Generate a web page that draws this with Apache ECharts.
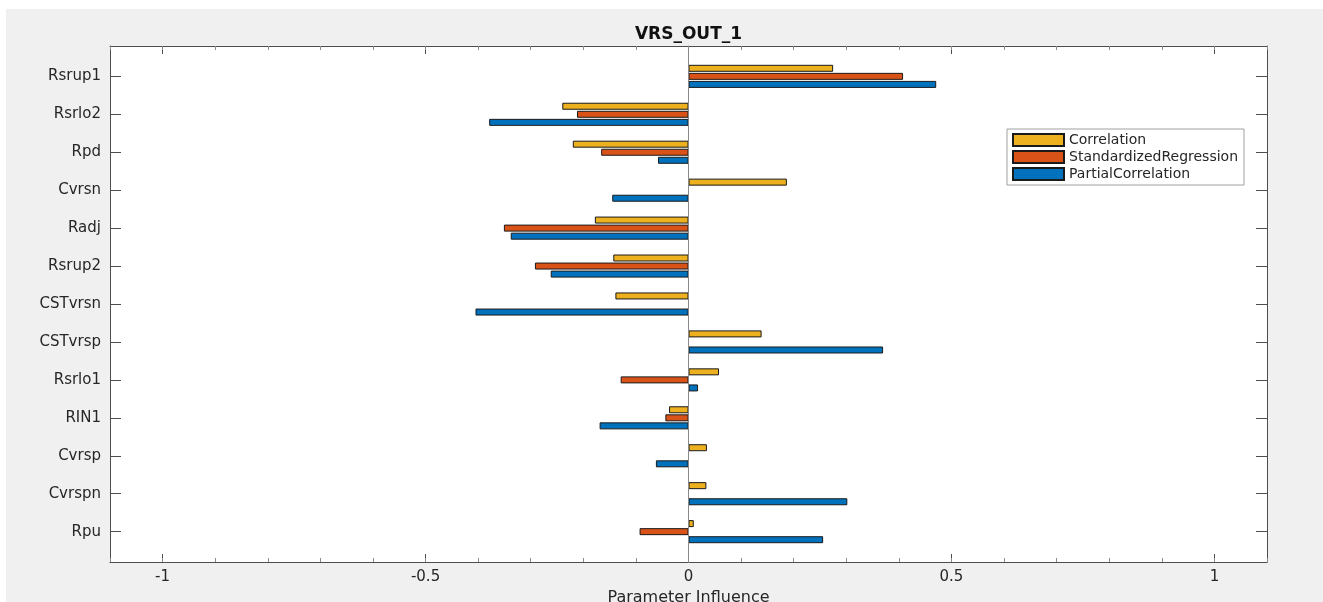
<!DOCTYPE html>
<html>
<head>
<meta charset="utf-8">
<title>VRS_OUT_1</title>
<script src="https://cdn.jsdelivr.net/npm/echarts@6/dist/echarts.min.js"></script>
<style>
  html, body { margin: 0; padding: 0; background: #fff; }
  #chart { position: absolute; left: 6px; top: 9px; width: 1317px; height: 593px; background: #f0f0f0; }
</style>
</head>
<body>
<div id="chart"></div>
<script>
// data
const categories = ['Rsrup1', 'Rsrlo2', 'Rpd', 'Cvrsn', 'Radj', 'Rsrup2', 'CSTvrsn',
  'CSTvrsp', 'Rsrlo1', 'RIN1', 'Cvrsp', 'Cvrspn', 'Rpu'];
const correlation = [0.275, -0.240, -0.220, 0.187, -0.178, -0.143, -0.139, 0.139, 0.058, -0.037, 0.035, 0.034, 0.010];
const standardizedRegression = [0.408, -0.212, -0.166, 0, -0.351, -0.292, 0, 0, -0.129, -0.044, 0, 0, -0.093];
const partialCorrelation = [0.471, -0.379, -0.058, -0.145, -0.338, -0.262, -0.405, 0.370, 0.018, -0.169, -0.062, 0.302, 0.256];
const seriesNames = ['Correlation', 'StandardizedRegression', 'PartialCorrelation'];
const xMajorTicks = [-1, -0.5, 0, 0.5, 1];

const colors = ['#EDB120', '#D95319', '#0072BD'];
const font = 'DejaVu Sans';
const textColor = '#262626';
const axisColor = '#4d4d4d';

// layout of the axes box (px inside the chart div)
const chartH = 593;
const box = { left: 104, right: 56, top: 37, bottom: 40 };
const yLim = [0.2, 13.8];   // categories sit at 1..13
const band = (chartH - box.top - box.bottom) / (yLim[1] - yLim[0]);
const padTop = (0.5 - yLim[0]) * band;
const padBottom = (yLim[1] - (categories.length + 0.5)) * band;

const chart = echarts.init(document.getElementById('chart'));

function boxAxisX(position, major, extra) {
  return Object.assign({
    gridIndex: 0,
    type: 'value',
    position: position,
    min: -1.1,
    max: 1.1,
    axisLine: { show: major, onZero: false, lineStyle: { color: axisColor, width: 1 } },
    axisTick: major
      ? { show: true, inside: true, length: 8, customValues: xMajorTicks, lineStyle: { color: axisColor } }
      : { show: true, inside: true, length: 4, lineStyle: { color: '#8c8c8c' } },
    axisLabel: { show: false },
    splitLine: { show: false }
  }, major ? {} : { interval: 0.1 }, extra || {});
}

function boxAxisY(position) {
  return {
    gridIndex: 0,
    type: 'value',
    position: position,
    min: 0,
    max: 1,
    axisLine: { show: true, onZero: false, lineStyle: { color: axisColor, width: 1 } },
    axisTick: { show: false },
    axisLabel: { show: false },
    splitLine: { show: false }
  };
}

function catAxisY(position, showLabel) {
  return {
    gridIndex: 1,
    type: 'category',
    data: categories,
    inverse: true,
    position: position,
    axisLine: { show: false, onZero: false },
    axisTick: { show: true, inside: true, length: 11, alignWithLabel: true, lineStyle: { color: axisColor } },
    axisLabel: { show: showLabel, interval: 0, margin: 9, color: textColor, fontSize: 15, fontFamily: font },
    splitLine: { show: false }
  };
}

const series = [correlation, standardizedRegression, partialCorrelation].map((vals, i) => ({
  name: seriesNames[i],
  type: 'bar',
  xAxisIndex: 4,
  yAxisIndex: 3,
  data: vals,
  barWidth: 7,
  barGap: '15%',
  itemStyle: { color: colors[i], borderColor: '#1a1a1a', borderWidth: 1 },
  emphasis: { disabled: true }
}));

const option = {
  animation: false,
  backgroundColor: 'transparent',
  textStyle: { fontFamily: font },
  grid: [
    {
      left: box.left, right: box.right, top: box.top, bottom: box.bottom,
      show: true, backgroundColor: '#fff', borderWidth: 0,
      outerBoundsMode: 'none', containLabel: false
    },
    {
      left: box.left, right: box.right, top: box.top + padTop, bottom: box.bottom + padBottom,
      outerBoundsMode: 'none', containLabel: false
    }
  ],
  legend: {
    orient: 'vertical',
    left: 1001,
    top: 120,
    data: seriesNames,
    icon: 'rect',
    itemWidth: 51,
    itemHeight: 12,
    itemGap: 3,
    padding: [4, 6, 4, 5],
    backgroundColor: '#fff',
    borderColor: '#a0a0a0',
    borderWidth: 1,
    borderRadius: 0,
    selectedMode: false,
    textStyle: { color: textColor, fontSize: 14, fontFamily: font, lineHeight: 14 }
  },
  xAxis: [
    boxAxisX('bottom', true, {
      axisLabel: { show: true, customValues: xMajorTicks, margin: 8, color: textColor, fontSize: 15, fontFamily: font },
      name: 'Parameter Influence',
      nameLocation: 'middle',
      nameGap: 26,
      nameTextStyle: { color: textColor, fontSize: 16, fontFamily: font }
    }),
    boxAxisX('bottom', false),
    boxAxisX('top', true, {
      name: 'VRS_OUT_1',
      nameLocation: 'middle',
      nameGap: 3,
      nameTextStyle: { color: '#111', fontSize: 17, fontWeight: 'bold', fontFamily: font }
    }),
    boxAxisX('top', false),
    { gridIndex: 1, type: 'value', min: -1.1, max: 1.1, show: false, axisLine: { onZero: false } }
  ],
  yAxis: [
    boxAxisY('left'),
    boxAxisY('right'),
    {
      // baseline at x = 0, drawn over the bars
      gridIndex: 0,
      type: 'value',
      min: 0,
      max: 1,
      z: 10,
      axisLine: { show: true, onZero: true, onZeroAxisIndex: 0, lineStyle: { color: '#8a8a8a', width: 1 } },
      axisTick: { show: false },
      axisLabel: { show: false },
      splitLine: { show: false }
    },
    catAxisY('left', true),
    catAxisY('right', false)
  ],
  series: series
};

chart.setOption(option);
</script>
</body>
</html>
